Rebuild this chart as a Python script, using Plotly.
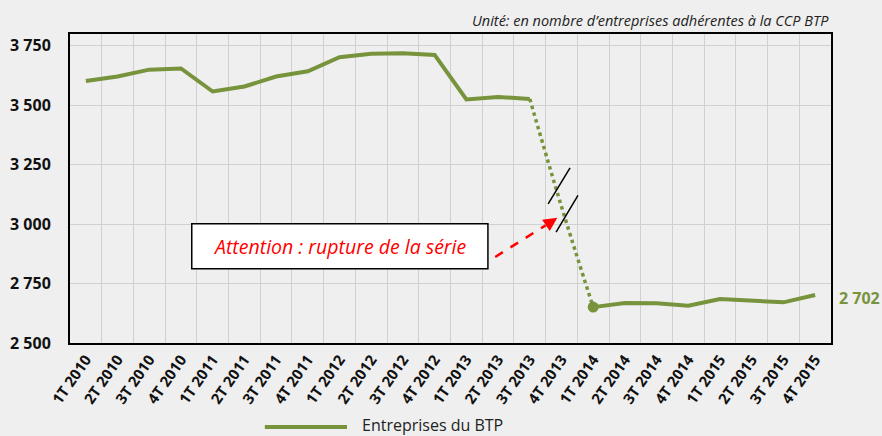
import plotly.graph_objects as go

quarters = ["1T 2010", "2T 2010", "3T 2010", "4T 2010",
            "1T 2011", "2T 2011", "3T 2011", "4T 2011",
            "1T 2012", "2T 2012", "3T 2012", "4T 2012",
            "1T 2013", "2T 2013", "3T 2013", "4T 2013",
            "1T 2014", "2T 2014", "3T 2014", "4T 2014",
            "1T 2015", "2T 2015", "3T 2015", "4T 2015"]

entreprises = [3602, 3621, 3650, 3655,
               3558, 3579, 3621, 3643,
               3702, 3717, 3719, 3712,
               3525, 3535, 3527, None,
               2651, 2668, 2667, 2657,
               2685, 2677, 2671, 2702]

rupture = [None] * 14 + [3527, 3074, 2651] + [None] * 7

y_ticks = [2500, 2750, 3000, 3250, 3500, 3750]

GREEN = "#77933C"
BG = "#EFEFEF"
FONT = "Open Sans"

fig = go.Figure()

fig.add_trace(go.Scatter(
    x=quarters, y=entreprises, mode="lines",
    line=dict(color=GREEN, width=4), connectgaps=False,
    name="Entreprises du BTP", showlegend=False, hoverinfo="x+y"))

fig.add_trace(go.Scatter(
    x=quarters, y=rupture, mode="lines",
    line=dict(color=GREEN, width=3.5, dash="dot", shape="spline"),
    showlegend=False, hoverinfo="skip"))

fig.add_trace(go.Scatter(
    x=[quarters[16]], y=[entreprises[16]], mode="markers",
    marker=dict(color=GREEN, size=11), showlegend=False, hoverinfo="skip"))

shapes = []
# annotation box
shapes.append(dict(type="rect", xref="x", yref="y", x0=3.34, x1=12.68, y0=2812, y1=3002,
                   fillcolor="white", line=dict(color="black", width=1.5), layer="above"))
# dashed arrow body
shapes.append(dict(type="line", xref="x", yref="y", x0=12.91, y0=2862, x1=14.5, y1=2995,
                   line=dict(color="#FF0000", width=2.5, dash="dash")))
# break marks
shapes.append(dict(type="line", xref="x", yref="y", x0=14.58, y0=3085, x1=15.27, y1=3237,
                   line=dict(color="black", width=1.5)))
shapes.append(dict(type="line", xref="x", yref="y", x0=14.83, y0=2966, x1=15.52, y1=3121,
                   line=dict(color="black", width=1.5)))
# legend line
shapes.append(dict(type="line", xref="paper", yref="paper", x0=0.256, x1=0.364, y0=-0.272, y1=-0.272,
                   line=dict(color=GREEN, width=4)))

annotations = []
annotations.append(dict(x=8.0, y=2906, xref="x", yref="y", text="Attention : rupture de la série",
                        showarrow=False, font=dict(family=FONT, size=19.5, color="#FF0000", style="italic")))
annotations.append(dict(x=14.87, y=3027, xref="x", yref="y", text="", showarrow=True,
                        ax=-12, ay=8, arrowhead=2, arrowsize=1.1, arrowwidth=2.5,
                        arrowcolor="#FF0000", standoff=0))
annotations.append(dict(x=quarters[-1], y=entreprises[-1], xref="x", yref="y",
                        text=f"{entreprises[-1]:,}".replace(",", " "), showarrow=False,
                        xanchor="left", xshift=22, yshift=-3,
                        font=dict(family=FONT, size=16, color=GREEN, weight="bold")))
annotations.append(dict(x=1, y=1.045, xref="paper", yref="paper", xanchor="right", yanchor="middle",
                        text="Unité: en nombre d’entreprises adhérentes à la CCP BTP", showarrow=False,
                        font=dict(family=FONT, size=14.5, color="#222222", style="italic")))
annotations.append(dict(x=0.381, y=-0.266, xref="paper", yref="paper", xanchor="left", yanchor="middle",
                        text="Entreprises du BTP", showarrow=False,
                        font=dict(family=FONT, size=16, color="#222222")))

fig.update_layout(
    width=882, height=436,
    margin=dict(l=70, r=51, t=34, b=93),
    paper_bgcolor=BG, plot_bgcolor=BG,
    separators=", ",
    shapes=shapes, annotations=annotations,
    showlegend=False,
    font=dict(family=FONT, color="#111111"),
)

fig.update_xaxes(
    type="category", categoryorder="array", categoryarray=quarters,
    range=[-0.5, 23.5], tickson="boundaries",
    showgrid=True, gridcolor="#D0D0D0", gridwidth=1,
    ticks="", tickangle=-55, automargin=False,
    tickfont=dict(family=FONT, size=15, color="#111111", weight="bold"),
    showline=True, linecolor="black", linewidth=2, mirror=True, zeroline=False,
)

fig.update_yaxes(
    range=[2500, 3800], tickvals=y_ticks, tickformat=",d",
    showgrid=True, gridcolor="#D0D0D0", gridwidth=1,
    ticks="outside", ticklen=14, tickcolor="rgba(0,0,0,0)", automargin=False,
    tickfont=dict(family=FONT, size=16, color="#111111", weight="bold"),
    showline=True, linecolor="black", linewidth=2, mirror=True, zeroline=False,
)

fig.write_html("out.html", config={"displayModeBar": False},
               post_script="document.body.style.margin='0';document.body.style.background='#EFEFEF';")
